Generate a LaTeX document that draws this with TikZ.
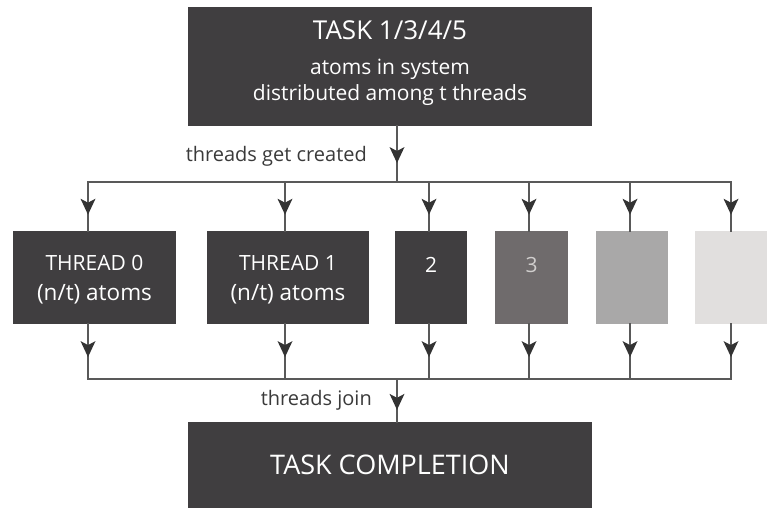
\documentclass[tikz,border=0pt]{standalone}
\usepackage{fontspec}
\setmainfont{Open Sans}
\usetikzlibrary{arrows.meta,decorations.markings}

\definecolor{boxdark}{HTML}{403E40}
\definecolor{boxmid}{HTML}{6F6B6C}
\definecolor{boxlight}{HTML}{A9A8A8}
\definecolor{boxpale}{HTML}{E1DFDE}
\definecolor{wire}{HTML}{595959}
\definecolor{tipcol}{HTML}{333333}
\definecolor{labelcol}{HTML}{3A3A3A}

\tikzset{
  block/.style={fill=boxdark, draw=none, inner sep=0pt, minimum height=93pt},
  boxtext/.style={text=white, inner sep=0pt, align=center},
  wireline/.style={draw=wire, line width=2pt, line cap=rect},
  midarrow/.style={wireline, postaction={decorate},
    decoration={markings, mark=at position #1 with
      {\arrow{Stealth[length=16pt,width=15pt,inset=4pt,line width=0pt,color=tipcol,fill=tipcol]}}}},
  flowlabel/.style={text=labelcol, inner sep=0pt, font=\fontsize{20}{20}\selectfont}
}

\begin{document}
\begin{tikzpicture}[x=1pt,y=-1pt]
\useasboundingbox (0,0) rectangle (773,508);

% main task block
\node[block, minimum width=404pt, minimum height=119pt] (task) at (390,66.5) {};
\node[boxtext, font=\fontsize{26}{26}\selectfont] (tasktitle) at (390,30) {TASK 1/3/4/5};
\node[boxtext, font=\fontsize{21}{21}\selectfont] (taskline1) at (390,69) {atoms in system};
\node[boxtext, font=\fontsize{21}{21}\selectfont] (taskline2) at (390,95) {distributed among t threads};

% thread blocks
\node[block, minimum width=163pt] (t0) at (94.5,277.5) {};
\node[block, minimum width=162pt] (t1) at (288,277.5) {};
\node[block, minimum width=72pt] (t2) at (431,277.5) {};
\node[block, minimum width=73pt, fill=boxmid] (t3) at (531.5,277.5) {};
\node[block, minimum width=72pt, fill=boxlight] (t4) at (632,277.5) {};
\node[block, minimum width=72pt, fill=boxpale] (t5) at (731,277.5) {};

\node[boxtext, font=\fontsize{21}{21}\selectfont] (t0a) at (94.5,263) {THREAD 0};
\node[boxtext, font=\fontsize{22.5}{22.5}\selectfont] (t0b) at (94.5,294) {(n/t) atoms};
\node[boxtext, font=\fontsize{21}{21}\selectfont] (t1a) at (288,263) {THREAD 1};
\node[boxtext, font=\fontsize{22.5}{22.5}\selectfont] (t1b) at (288,294) {(n/t) atoms};
\node[boxtext, font=\fontsize{21}{21}\selectfont] (t2a) at (431,265) {2};
\node[boxtext, font=\fontsize{21}{21}\selectfont, text=boxpale!85!boxmid] (t3a) at (531.5,265) {3};

% completion block
\node[block, minimum width=404pt, minimum height=92pt] (done) at (390,468) {};
\node[boxtext, font=\fontsize{27}{27}\selectfont] (donetext) at (390,465) {TASK COMPLETION};

% fork and join points
\coordinate (fork) at (397,182);
\coordinate (join) at (397,379);
\coordinate (f0) at (88,182);
\coordinate (f1) at (285,182);
\coordinate (f2) at (429,182);
\coordinate (f3) at (529,182);
\coordinate (f4) at (630,182);
\coordinate (f5) at (731,182);
\coordinate (j0) at (88,379);
\coordinate (j1) at (285,379);
\coordinate (j2) at (429,379);
\coordinate (j3) at (529,379);
\coordinate (j4) at (630,379);
\coordinate (j5) at (731,379);

% fork
\draw[midarrow=0.66] (fork |- task.south) -- (fork);
\draw[wireline] (f0) -- (f5);
\foreach \i in {0,...,5} {
  \draw[midarrow=0.67] (f\i) -- (f\i |- t\i.north);
  \draw[midarrow=0.6] (j\i |- t\i.south) -- (j\i);
}
% join
\draw[wireline] (j0) -- (j5);
\draw[midarrow=0.72] (join) -- (join |- done.north);

\node[flowlabel, anchor=east] (createdlabel) at (367,156) {threads get created};
\node[flowlabel, anchor=east] (joinlabel) at (372,400) {threads join};
\end{tikzpicture}
\end{document}
